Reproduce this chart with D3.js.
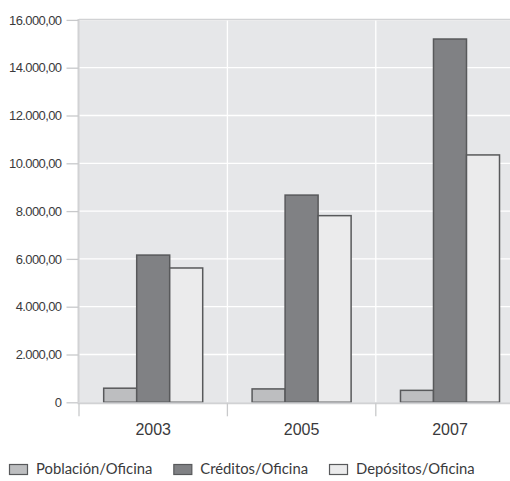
<!DOCTYPE html>
<html><head><meta charset="utf-8">
<script src="https://cdn.jsdelivr.net/npm/d3@7"></script>
<style>
html,body{margin:0;padding:0;background:#fff;overflow:hidden;}
svg{display:block;font-family:Lato,"Open Sans",sans-serif;}
</style></head>
<body><svg id="c" width="510" height="481"></svg>
<script>
const years = ["2003","2005","2007"];
const series = ["Población/Oficina","Créditos/Oficina","Depósitos/Oficina"];
const poblacion = [590, 560, 500];
const creditos = [6160, 8670, 15200];
const depositos = [5620, 7810, 10350];
const yTicks = [0,2000,4000,6000,8000,10000,12000,14000,16000];
const colors = ["#bdbec0","#808184","#ebebec"];

(function(){
const values = [poblacion, creditos, depositos];
const svg = d3.select("#c");
const pLeft = 79, pTop = 19.9, pBottom = 402.3, step = 148.4;
const x = d3.scaleBand().domain(years).range([pLeft, pLeft + step*years.length]);
const xs = d3.scaleBand().domain(series).range([0, x.bandwidth()]).paddingOuter(0.748);
const y = d3.scaleLinear().domain([0,16000]).range([pBottom, pTop]);

const loc = d3.formatLocale({decimal:",",thousands:".",grouping:[3],currency:["",""]});
const fmt = v => v === 0 ? "0" : loc.format(",.2f")(v);

svg.append("rect").attr("x",pLeft).attr("y",pTop).attr("width",510-pLeft).attr("height",pBottom-pTop).attr("fill","#e6e7e9");
svg.append("g").selectAll("line").data(yTicks.filter(t=>t>0)).join("line")
  .attr("x1",pLeft).attr("x2",510).attr("y1",d=>y(d)).attr("y2",d=>y(d))
  .attr("stroke","#ffffff").attr("stroke-width",1.3);
svg.append("g").selectAll("line").data(years.slice(1)).join("line")
  .attr("x1",d=>x(d)).attr("x2",d=>x(d)).attr("y1",pTop).attr("y2",pBottom)
  .attr("stroke","#ffffff").attr("stroke-width",1.3);
svg.append("line").attr("x1",pLeft).attr("x2",510).attr("y1",pTop-0.5).attr("y2",pTop-0.5).attr("stroke","#d1d2d4").attr("stroke-width",1.5);

const g = svg.append("g");
years.forEach((yr,i)=>{
  series.forEach((s,j)=>{
    const v = values[j][i];
    g.append("rect")
      .attr("x", x(yr)+xs(s)).attr("y", y(v))
      .attr("width", xs.bandwidth()).attr("height", pBottom - y(v))
      .attr("fill", colors[j]).attr("stroke","#58595b").attr("stroke-width",1.5);
  });
});

const yAxis = d3.axisLeft(y).tickValues(yTicks).tickFormat(fmt).tickSize(12).tickPadding(5);
const ya = svg.append("g").attr("transform",`translate(${pLeft-0.5},0)`).call(yAxis);
ya.select(".domain").attr("stroke","#d1d2d4").attr("stroke-width",2).attr("d",`M0,${pTop-1}V${pBottom}`);
ya.selectAll(".tick line").attr("stroke","#c8c9cb").attr("stroke-width",1.3);
ya.selectAll(".tick text").attr("fill","#3a3a3c").style("font-size","13px").style("letter-spacing","-0.6px");

const xa = svg.append("g").attr("transform",`translate(0,${pBottom+1})`)
  .call(d3.axisBottom(x).tickSize(0).tickPadding(20));
xa.select(".domain").attr("stroke","#d1d2d4").attr("stroke-width",2).attr("d",`M${pLeft-1.5},0H510`);
xa.selectAll(".tick text").attr("fill","#3a3a3c").style("font-size","16px");
svg.append("g").selectAll("line").data(years).join("line")
  .attr("x1",d=>x(d)).attr("x2",d=>x(d)).attr("y1",pBottom+1).attr("y2",pBottom+14)
  .attr("stroke","#c8c9cb").attr("stroke-width",1.3);

const lg = svg.append("g").attr("transform","translate(9,464)");
let lx = 0;
series.forEach((s,j)=>{
  const it = lg.append("g").attr("transform",`translate(${lx},0)`);
  it.append("rect").attr("x",0.5).attr("y",0.5).attr("width",18).attr("height",10)
    .attr("fill",colors[j]).attr("stroke","#58595b").attr("stroke-width",1.2);
  const t = it.append("text").attr("x",27).attr("y",10).attr("fill","#3a3a3c").style("font-size","14.8px").text(s);
  lx += 27 + t.node().getComputedTextLength() + 21;
});
})();
</script></body></html>
